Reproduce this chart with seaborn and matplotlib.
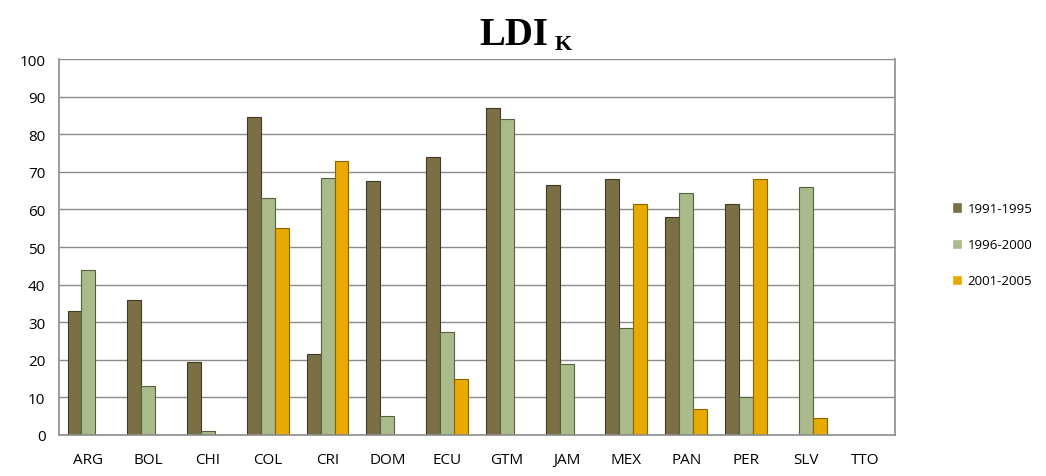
import matplotlib
matplotlib.use("Agg")
import matplotlib.pyplot as plt
import numpy as np
import pandas as pd
import seaborn as sns

countries = ["ARG", "BOL", "CHI", "COL", "CRI", "DOM", "ECU",
             "GTM", "JAM", "MEX", "PAN", "PER", "SLV", "TTO"]
periods = ["1991-1995", "1996-2000", "2001-2005"]
ldi_1991_1995 = [33, 36, 19.5, 84.5, 21.5, 67.5, 74, 87, 66.5, 68, 58, 61.5, 0, 0]
ldi_1996_2000 = [44, 13, 1, 63, 68.5, 5, 27.5, 84, 19, 28.5, 64.5, 10, 66, 0]
ldi_2001_2005 = [0, 0, 0, 55, 73, 0, 15, 0, 0, 61.5, 7, 68, 4.5, 0]

colors = ["#7b6f45", "#a9ba8b", "#e8a900"]
edges = ["#3f3a22", "#56623f", "#8a6400"]

df = pd.DataFrame({
    "country": countries * 3,
    "period": np.repeat(periods, len(countries)),
    "value": ldi_1991_1995 + ldi_1996_2000 + ldi_2001_2005,
})

sns.set_style("white")
plt.rcParams["text.color"] = "black"
plt.rcParams["xtick.labelcolor"] = "black"
plt.rcParams["ytick.labelcolor"] = "black"

fig = plt.figure(figsize=(10.46, 4.77), dpi=100)
ax = fig.add_axes([0.056, 0.086, 0.80, 0.788])

sns.barplot(data=df, x="country", y="value", hue="period", order=countries,
            hue_order=periods, palette=colors, width=0.7, saturation=1,
            ax=ax, legend=True)

# darker edge per series to hint at the bevel look
for container, ec in zip(ax.containers, edges):
    for bar in container:
        bar.set_edgecolor(ec)
        bar.set_linewidth(0.8)
        if bar.get_height() == 0:
            bar.set_visible(False)

ax.set_ylim(0, 100)
ax.set_xlim(-0.5, len(countries) - 0.5)
ax.set_yticks(range(0, 101, 10))
ax.yaxis.grid(True, color="#8c8c8c", linewidth=1)
ax.set_axisbelow(True)
ax.set_xlabel("")
ax.set_ylabel("")

for side in ["left", "bottom", "right"]:
    ax.spines[side].set_color("#8c8c8c")
    ax.spines[side].set_linewidth(1.2)
ax.spines["top"].set_visible(False)

ax.tick_params(axis="x", which="major", length=0, labelsize=11, pad=12)
ax.set_xticks(np.arange(-0.5, len(countries)), minor=True)
ax.tick_params(axis="x", which="minor", length=6, color="#8c8c8c", width=1.2)
ax.tick_params(axis="y", length=6, color="#8c8c8c", width=1.2, labelsize=11)
for lbl in ax.get_xticklabels() + ax.get_yticklabels():
    lbl.set_family("Open Sans")
    lbl.set_color("black")

handles, labels = ax.get_legend_handles_labels()
ax.get_legend().remove()
fig.legend(handles, labels, loc="center left", bbox_to_anchor=(0.905, 0.485),
           bbox_transform=fig.transFigure, frameon=False,
           prop={"family": "Open Sans", "size": 9.5},
           handlelength=0.8, handleheight=0.8, labelspacing=1.75,
           handletextpad=0.4, borderaxespad=0, labelcolor="black")

fig.text(0.524, 0.925, "LDI", ha="right", va="center", color="black",
         fontsize=28, fontweight="bold", family="Liberation Serif")
fig.text(0.530, 0.905, "K", ha="left", va="center", color="black",
         fontsize=16, fontweight="bold", family="Liberation Serif")

fig.savefig("out.png", dpi=100)
plt.close(fig)
